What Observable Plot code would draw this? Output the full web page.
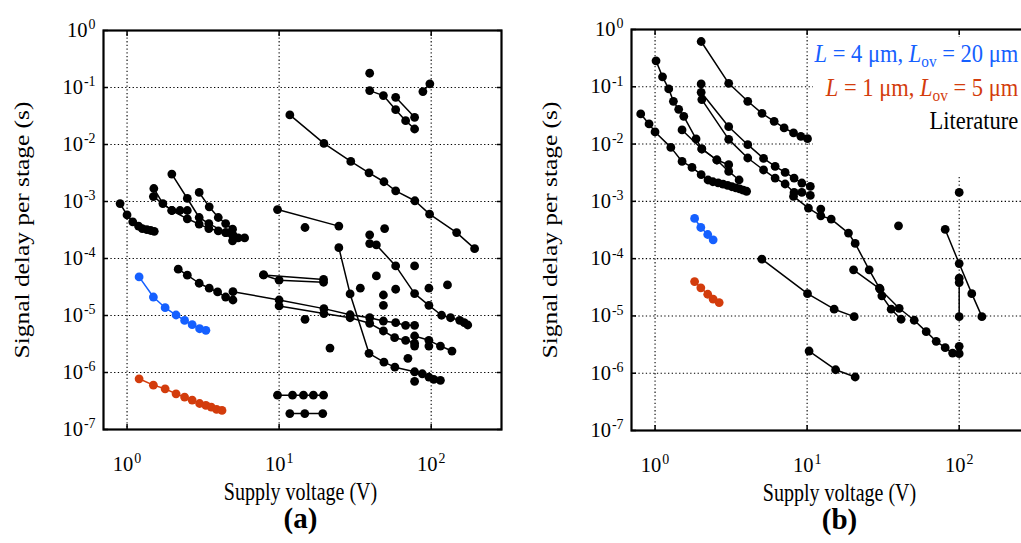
<!DOCTYPE html>
<html><head><meta charset="utf-8">
<script src="https://cdn.jsdelivr.net/npm/d3@7"></script>
<script src="https://cdn.jsdelivr.net/npm/@observablehq/plot@0.6"></script>
<style>
html,body{margin:0;padding:0;background:#fff;overflow:hidden;}
#wrap{position:relative;width:1021px;height:543px;overflow:hidden;font-family:"Liberation Serif","Times New Roman",serif;}
.panel{position:absolute;top:0;}
.panel svg{max-width:none !important;display:block;}
#legendbox{position:absolute;left:813px;top:37px;width:208px;height:140px;background:#fff;}
#legend{position:absolute;right:3px;top:0px;text-align:right;font-size:25px;line-height:33.5px;white-space:nowrap;transform:scaleX(0.9);transform-origin:right top;}
#legend sub{font-size:0.68em;line-height:0;vertical-align:-0.3em;}
</style></head><body>
<div id="wrap">
<div id="pa" class="panel" style="left:0px;width:510px"></div>
<div id="pb" class="panel" style="left:510px;width:528px"></div>
<div id="legendbox"><div id="legend">
<div style="color:#1560ff"><i>L</i> = 4 μm, <i>L</i><sub>ov</sub> = 20 μm</div>
<div style="color:#d33c0c"><i>L</i> = 1 μm, <i>L</i><sub>ov</sub> = 5 μm</div>
<div style="color:#000">Literature</div>
</div></div>
</div>
<script>
// ---- axis ticks and text ----
const xTicks = [1, 10, 100];
const yTicks = [1e-7, 1e-6, 1e-5, 1e-4, 1e-3, 1e-2, 1e-1, 1];
const xTitle = "Supply voltage (V)";
const yTitle = "Signal delay per stage (s)";
const panelNames = ["(a)", "(b)"];
const blueColor = "#1560ff";
const redColor = "#d33c0c";

// ---- panel (a): [supply voltage V, delay s] ----
const a_blue = [[1.20,4.75e-5],[1.49,2.11e-5],[1.78,1.37e-5],[2.10,1.02e-5],[2.39,8.2e-6],[2.68,6.9e-6],[3.00,5.86e-6],[3.30,5.5e-6]];
const a_red = [[1.20,7.75e-7],[1.49,6.0e-7],[1.78,5.17e-7],[2.10,4.23e-7],[2.39,3.7e-7],[2.68,3.28e-7],[3.00,2.86e-7],[3.30,2.64e-7],[3.58,2.47e-7],[3.88,2.25e-7],[4.21,2.16e-7]];
const a_lit01 = [[0.90,9.2e-4],[1.0,5.8e-4],[1.09,4.4e-4],[1.19,3.7e-4],[1.26,3.35e-4],[1.35,3.2e-4],[1.43,3.1e-4],[1.51,3.0e-4]];
const a_lit02 = [[1.50,1.69e-3],[1.72,9.2e-4],[1.97,6.95e-4],[2.23,6.95e-4],[2.49,6.95e-4]];
const a_lit03 = [[1.49,1.22e-3],[1.97,6.95e-4],[2.49,4.97e-4],[2.98,4.01e-4],[3.45,3.35e-4],[3.98,3.05e-4],[4.47,2.85e-4],[4.97,2.6e-4],[5.38,2.3e-4],[5.93,2.3e-4]];
const a_lit04 = [[1.97,3.03e-3],[2.49,1.13e-3],[2.98,5.24e-4],[3.45,4.1e-4],[4.45,2.85e-4],[4.94,2.04e-4]];
const a_lit05 = [[2.98,1.44e-3],[3.47,8.07e-4],[3.98,5.24e-4],[4.45,4.1e-4],[4.94,3.27e-4]];
const a_lit06 = [[2.17,6.49e-5],[2.49,5.09e-5],[2.98,3.68e-5],[3.47,3.01e-5],[3.94,2.59e-5],[4.45,2.11e-5],[4.97,1.87e-5]];
const a_lit07 = [[4.97,2.62e-5],[10.0,1.87e-5],[19.7,1.32e-5],[29.3,1.03e-5],[39.4,9.14e-6],[48.5,8.0e-6],[58.4,7.47e-6],[67.9,6.73e-6],[77.8,6.73e-6]];
const a_lit08 = [[10.0,1.47e-5],[19.7,1.08e-5],[29.3,9.14e-6],[39.4,7.29e-6],[48.5,5.35e-6],[57.5,4.08e-6],[67.9,3.67e-6],[77.8,3.25e-6]];
const a_lit09 = [[77.8,4.37e-6],[96.6,3.67e-6],[115,2.91e-6],[137,2.38e-6]];
const a_lit10 = [[7.90,5.15e-5],[10.0,4.16e-5],[19.6,3.83e-5]];
const a_lit11 = [[7.90,5.15e-5],[19.6,4.3e-5]];
const a_lit12 = [[9.76,7.23e-4],[24.7,3.7e-4]];
const a_lit13 = [[11.76,0.033],[19.7,0.01045],[29.6,5.05e-3],[39.0,3.19e-3],[48.9,2.22e-3],[58.4,1.54e-3],[78.1,1.03e-3],[97.6,6.0e-4],[147,2.85e-4],[193,1.49e-4]];
const a_lit14 = [[39.4,0.0882],[48.5,0.0721],[58.4,0.0409],[67.9,0.0262],[77.8,0.0187]];
const a_lit15 = [[58.4,0.0673],[77.8,0.030]];
const a_lit16 = [[88.2,0.0847],[98.0,0.116]];
const a_lit17 = [[24.7,1.55e-4],[29.3,2.39e-5],[39.0,2.17e-6],[48.9,1.52e-6],[57.7,1.24e-6],[77.8,1.03e-6],[87.4,9.5e-7],[96.6,8.3e-7],[104,7.6e-7],[115,7.3e-7]];
const a_lit18 = [[43.6,1.73e-4],[58.4,7.41e-5],[77.8,2.42e-5],[96.6,1.51e-5],[117,1.01e-5],[134,9.14e-6],[154,8.24e-6],[165,7.47e-6],[174,6.81e-6]];
const a_lit19 = [[9.76,4.0e-7],[12.25,4.0e-7],[14.46,4.0e-7],[16.8,4.0e-7],[19.6,4.0e-7]];
const a_lit20 = [[11.76,1.9e-7],[14.75,1.9e-7],[19.36,1.9e-7]];
const a_single = [[39.4,0.178],[14.8,3.5e-4],[39.4,2.6e-4],[49.4,3.35e-4],[39.4,1.83e-4],[77.8,7.41e-5],[43.6,4.94e-5],[34.2,3.01e-5],[58.4,2.89e-5],[48.5,2.29e-5],[48.5,1.51e-5],[96.6,3.01e-5],[128,3.44e-5],[14.8,8.57e-6],[21.6,2.68e-6],[70.3,1.77e-6],[77.8,7.0e-7],[77.8,2.91e-6],[96.6,2.91e-6]];

// ---- panel (b): [supply voltage V, delay s] ----
const b_blue = [[1.82,5.03e-4],[2.0,3.5e-4],[2.22,2.64e-4],[2.41,2.13e-4]];
const b_red = [[1.82,3.98e-5],[2.0,3.09e-5],[2.22,2.39e-5],[2.41,1.96e-5],[2.64,1.71e-5]];
const b_lit01 = [[2.01,0.617],[3.05,0.115],[4.07,0.0558],[5.05,0.0344],[6.07,0.0249],[7.06,0.0191],[8.14,0.01563],[9.09,0.01364],[10.06,0.01243]];
const b_lit02 = [[1.015,0.284],[1.12,0.149],[1.23,0.0919],[1.32,0.0558],[1.43,0.0404],[1.545,0.0305],[1.86,0.01228],[2.03,8.21e-3],[2.55,5.27e-3],[3.05,3.33e-3],[3.57,2.36e-3]];
const b_lit03 = [[1.505,0.01764],[2.03,8.21e-3],[2.55,5.27e-3],[3.05,4.36e-3]];
const b_lit04 = [[0.805,0.0336],[0.913,0.0225],[1.0,0.0163],[1.27,8.75e-3],[1.505,4.98e-3],[1.75,3.91e-3],[2.01,2.92e-3],[2.23,2.36e-3],[2.4,2.2e-3],[2.6,2.1e-3],[2.8,2.0e-3],[3.0,1.9e-3],[3.2,1.8e-3],[3.4,1.72e-3],[3.6,1.65e-3],[3.8,1.57e-3],[4.0,1.5e-3]];
const b_lit05 = [[2.01,0.112],[2.01,0.0801],[3.05,0.0201],[4.07,9.76e-3],[5.17,5.62e-3],[6.16,4.07e-3],[7.17,3.2e-3],[8.21,2.55e-3],[9.23,2.09e-3],[10.5,1.82e-3]];
const b_lit06 = [[2.03,0.0598],[3.05,0.01208],[4.07,5.71e-3],[5.17,3.53e-3],[6.16,2.55e-3],[7.17,2.01e-3],[8.21,1.43e-3],[9.23,1.43e-3],[10.5,1.27e-3]];
const b_lit07 = [[8.14,1.22e-3],[10.2,7.64e-4],[12.3,5.6e-4],[14.4,4.9e-4],[18.7,2.79e-4],[20.7,1.84e-4],[25.6,6.37e-5],[29.9,3.05e-5],[31.0,2.24e-5],[35.7,1.31e-5],[41.5,8.75e-6]];
const b_lit08 = [[20.2,6.37e-5],[30.2,2.93e-5],[40.3,1.36e-5],[50.6,8.41e-6],[60.7,5.32e-6],[70.6,3.61e-6],[80.9,2.79e-6],[90.5,2.25e-6],[100,2.19e-6]];
const b_lit09 = [[80.9,3.23e-4],[100,8.2e-5],[121,2.45e-5],[141,9.72e-6]];
const b_lit10 = [[100,4.56e-5],[100,3.82e-5],[100,9.72e-6]];
const b_lit11 = [[5.04,9.8e-5],[10.06,2.45e-5],[15.06,1.31e-5],[20.4,9.72e-6]];
const b_lit12 = [[10.3,2.44e-6],[15.4,1.15e-6],[20.7,8.59e-7]];
const b_single = [[12.3,7.34e-4],[39.9,3.74e-4],[100,1.43e-3],[100,2.95e-6]];

// ---- build tables ----
function rows(list) {
  const out = [];
  list.forEach((s, i) => s.forEach(([v, d]) => out.push({id: i, v, d})));
  return out;
}
const fmt = d => "10^" + Math.round(Math.log10(d));

function panel({lit, single, blue, red, width, marginLeft, marginTop, marginBottom, name, dxLabel}) {
  const litRows = rows(lit);
  const singleRows = rows([single]);
  const blueRows = rows([blue]);
  const redRows = rows([red]);
  const grid = {stroke: "#000", strokeOpacity: 1, strokeDasharray: "1.3,2.4", strokeWidth: 1.1};
  const svg = Plot.plot({
    width, height: 543, marginLeft, marginRight: 9, marginTop, marginBottom,
    style: {fontFamily: '"Liberation Serif", "Times New Roman", serif', fontSize: "25px", color: "#000", background: "transparent", overflow: "visible", maxWidth: "none"},
    x: {type: "log", domain: [0.7, 290]},
    y: {type: "log", domain: [1e-7, 1]},
    marks: [
      Plot.gridX(xTicks, grid),
      Plot.gridY(yTicks, grid),
      Plot.line(litRows, {x: "v", y: "d", z: "id", stroke: "#000", strokeWidth: 1.5}),
      Plot.line(blueRows, {x: "v", y: "d", stroke: blueColor, strokeWidth: 1.5}),
      Plot.line(redRows, {x: "v", y: "d", stroke: redColor, strokeWidth: 1.5}),
      Plot.dot(litRows, {x: "v", y: "d", fill: "#000", r: 4.4}),
      Plot.dot(singleRows, {x: "v", y: "d", fill: "#000", r: 4.4}),
      Plot.dot(blueRows, {x: "v", y: "d", fill: blueColor, r: 4.4}),
      Plot.dot(redRows, {x: "v", y: "d", fill: redColor, r: 4.4}),
      Plot.frame({strokeWidth: 2.2}),
      Plot.axisX(xTicks, {anchor: "bottom", tickSize: -5, tickPadding: 32, tickFormat: fmt, label: null, strokeWidth: 1.5, fontSize: 20.5}),
      Plot.axisX(xTicks, {anchor: "top", tickSize: -5, tickFormat: () => "", label: null, strokeWidth: 1.5}),
      Plot.axisY(yTicks, {anchor: "left", tickSize: -5, tickPadding: 13, tickFormat: fmt, label: null, strokeWidth: 1.5, fontSize: 20.5}),
      Plot.axisY(yTicks, {anchor: "right", tickSize: -5, tickFormat: () => "", label: null, strokeWidth: 1.5}),
      Plot.text([xTitle], {text: d => d, frameAnchor: "bottom", dy: 62, dx: dxLabel, lineAnchor: "middle", textAnchor: "middle"}),
      Plot.text([yTitle], {text: d => d, frameAnchor: "left", dx: -81, rotate: -90, lineAnchor: "middle", textAnchor: "middle", fontSize: 20}),
      Plot.text([name], {text: d => d, frameAnchor: "bottom", dy: 89, dx: dxLabel, lineAnchor: "middle", textAnchor: "middle", fontWeight: "bold", fontSize: 29})
    ]
  });
  svg.style.maxWidth = "none";
  const ns = "http://www.w3.org/2000/svg";
  svg.querySelectorAll("text").forEach(t => {
    const s = t.textContent;
    if (/^10\^-?\d+$/.test(s)) {
      const [base, exp] = s.split("^");
      t.textContent = "";
      const a = document.createElementNS(ns, "tspan"); a.textContent = base;
      const b = document.createElementNS(ns, "tspan"); b.textContent = exp;
      b.setAttribute("dy", "-0.55em"); b.setAttribute("dx", "1"); b.setAttribute("font-size", "0.68em");
      t.appendChild(a); t.appendChild(b);
    }
  });
  return svg;
}

// narrow title glyphs like the reference (horizontal titles 0.8x, vertical title stretched)
function adjustTexts(svg) {
  svg.querySelectorAll("text").forEach(t => {
    const s = t.textContent;
    if (s !== xTitle && s !== yTitle) return;
    const L = t.getComputedTextLength();
    if (!(L > 0)) return;
    const k = s === yTitle ? 1.27 : 0.8;
    t.setAttribute("textLength", (L * k).toFixed(1));
    t.setAttribute("lengthAdjust", "spacingAndGlyphs");
  });
}

const svgA = panel({
  lit: [a_lit01,a_lit02,a_lit03,a_lit04,a_lit05,a_lit06,a_lit07,a_lit08,a_lit09,a_lit10,a_lit11,a_lit12,a_lit13,a_lit14,a_lit15,a_lit16,a_lit17,a_lit18,a_lit19,a_lit20],
  single: a_single, blue: a_blue, red: a_red,
  width: 510, marginLeft: 103, marginTop: 30, marginBottom: 114, name: panelNames[0], dxLabel: -2
});
const svgB = panel({
  lit: [b_lit01,b_lit02,b_lit03,b_lit04,b_lit05,b_lit06,b_lit07,b_lit08,b_lit09,b_lit10,b_lit11,b_lit12],
  single: b_single, blue: b_blue, red: b_red,
  width: 528, marginLeft: 121, marginTop: 29, marginBottom: 113, name: panelNames[1], dxLabel: 9
});
document.getElementById("pa").appendChild(svgA);
document.getElementById("pb").appendChild(svgB);
adjustTexts(svgA);
adjustTexts(svgB);
</script>
</body></html>
